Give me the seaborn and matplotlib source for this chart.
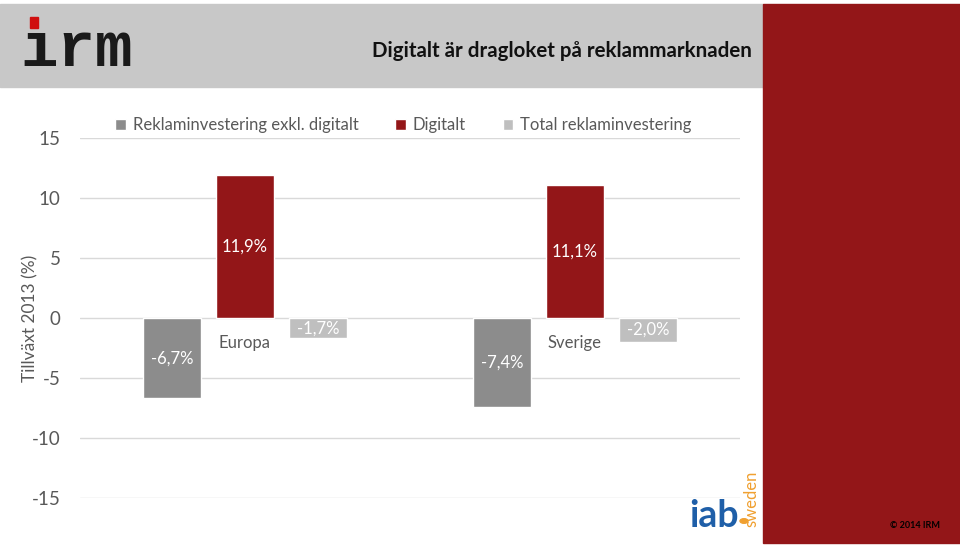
import pandas as pd
import numpy as np
import matplotlib.pyplot as plt
import seaborn as sns
from matplotlib.patches import Rectangle, Circle

# Data
regioner = ['Europa', 'Sverige']
serier = ['Reklaminvestering exkl. digitalt', 'Digitalt', 'Total reklaminvestering']
exkl_digitalt = [-6.7, -7.4]
digitalt = [11.9, 11.1]
total = [-1.7, -2.0]
yticks = [-15, -10, -5, 0, 5, 10, 15]

farger = ['#8c8c8c', '#931618', '#bfbfbf']
textgra = '#595959'

df = pd.DataFrame({
    'region': regioner * 3,
    'serie': [serier[0]] * 2 + [serier[1]] * 2 + [serier[2]] * 2,
    'varde': exkl_digitalt + digitalt + total,
})

sns.set_style('white')
plt.rcParams['font.family'] = ['Lato', 'DejaVu Sans']

fig = plt.figure(figsize=(9.6, 5.48), dpi=100)

# Sidhuvud och röd panel
fig.patches.append(Rectangle((0, (548 - 87) / 548), 763 / 960, 83 / 548,
                             transform=fig.transFigure, color='#c8c8c8', zorder=0))
fig.patches.append(Rectangle((763 / 960, 5 / 548), 197 / 960, 539 / 548,
                             transform=fig.transFigure, color='#931618', zorder=0))

# irm-logga
fig.text(20 / 960, (548 - 66) / 548, 'ırm', family='Liberation Mono', weight='bold',
         fontsize=45, color='#1a1a1a', ha='left', va='baseline')
fig.patches.append(Rectangle((30 / 960, (548 - 28) / 548), 8 / 960, 11 / 548,
                             transform=fig.transFigure, color='#d01010', zorder=2))

fig.text(752 / 960, (548 - 51) / 548, 'Digitalt är dragloket på reklammarknaden',
         fontsize=14.8, weight='bold', color='#111111', ha='right', va='center')

ax = fig.add_axes([80 / 960, 50 / 548, 660 / 960, 360 / 548])

sns.barplot(data=df, x='region', y='varde', hue='serie', hue_order=serier,
            palette=farger, width=0.664, gap=0.205, saturation=1,
            errorbar=None, ax=ax, zorder=3)

ax.set_ylim(-15, 15)
ax.set_xlim(-0.5, 1.5)
ax.set_yticks(yticks)
ax.set_yticklabels([str(t) for t in yticks])
ax.grid(axis='y', color='#d9d9d9', linewidth=1, zorder=0)
ax.set_axisbelow(True)
for s in ['top', 'right', 'left']:
    ax.spines[s].set_visible(False)
ax.spines['bottom'].set_position(('data', 0))
ax.spines['bottom'].set_visible(False)
ax.tick_params(axis='x', length=0, pad=12, labelsize=12, labelcolor=textgra)
ax.tick_params(axis='y', length=0, pad=14, labelsize=13.5, labelcolor=textgra)
ax.set_xlabel('')
ax.set_ylabel('Tillväxt 2013 (%)', fontsize=12.5, color=textgra)
ax.yaxis.set_label_coords(-42 / 660, 0.5)

# Etiketter i staplarna
for cont, vals in zip(ax.containers, [exkl_digitalt, digitalt, total]):
    etiketter = [f'{v:.1f}'.replace('.', ',') + '%' for v in vals]
    ax.bar_label(cont, labels=etiketter, label_type='center', color='white', fontsize=12)

handles, labels = ax.get_legend_handles_labels()
ax.legend(handles, labels, loc='lower center', bbox_to_anchor=(0.49, 0.971), ncol=3,
          frameon=False, fontsize=12, handlelength=0.65, handleheight=0.65,
          handletextpad=0.4, columnspacing=2.2, labelcolor=textgra)

# iab sweden
fig.text(689 / 960, (548 - 527) / 548, 'iab', fontsize=27, weight='bold', color='#1f5fa8',
         ha='left', va='baseline')
fig.patches.append(Circle((744 / 960, (548 - 521) / 548), 4 / 960,
                          transform=fig.transFigure, color='#f0a030', zorder=2))
fig.text(751 / 960, (548 - 527) / 548, 'sweden', fontsize=12, color='#f0a030',
         rotation=90, ha='center', va='bottom')

fig.text(940 / 960, (548 - 526) / 548, '© 2014 IRM', fontsize=6.5, weight='bold',
         color='black', ha='right', va='center')

plt.savefig('out.png', dpi=100)
